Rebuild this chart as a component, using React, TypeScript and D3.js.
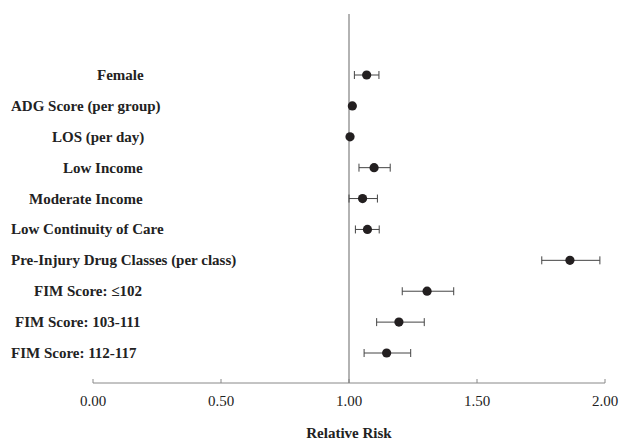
import React from "react";
import * as d3 from "d3";

const categories = [
  "Female",
  "ADG Score (per group)",
  "LOS (per day)",
  "Low Income",
  "Moderate Income",
  "Low Continuity of Care",
  "Pre-Injury Drug Classes (per class)",
  "FIM Score: \u2264102",
  "FIM Score: 103-111",
  "FIM Score: 112-117",
];
const estimate = [1.069, 1.013, 1.004, 1.098, 1.053, 1.072, 1.863, 1.305, 1.195, 1.147];
const lower: (number | null)[] = [1.021, null, null, 1.039, 1.0, 1.025, 1.753, 1.208, 1.108, 1.059];
const upper: (number | null)[] = [1.117, null, null, 1.161, 1.111, 1.118, 1.98, 1.409, 1.294, 1.241];
const xTicks = [0, 0.5, 1, 1.5, 2];

// layout: left edge of each row label (as in the original figure)
const labelLeft = [97, 11, 52, 63, 29, 11, 11, 34, 15, 11];

export default function App() {
  const W = 619, H = 440;
  const x = d3.scaleLinear().domain([0, 2]).range([93, 605]);
  const y = d3.scaleLinear().domain([0, 9]).range([75, 353]);
  const axisY = 383;
  const fmt = d3.format(".2f");
  const font = '"Liberation Serif", "DejaVu Serif", serif';
  const ts = { fontFamily: font };
  return (
    <svg width={W} height={H} style={{ position: "absolute", left: 0, top: 0, fontFamily: font }}>
      <rect width={W} height={H} fill="#fff" />
      {/* axis */}
      <line x1={x(0)} x2={x(2)} y1={axisY} y2={axisY} stroke="#888" strokeWidth={1} />
      {xTicks.map((t) => (
        <g key={t}>
          <line x1={x(t)} x2={x(t)} y1={axisY} y2={axisY - 4} stroke="#888" strokeWidth={1} />
          <text x={x(t)} y={406} textAnchor="middle" fontSize={15} fill="#222" style={ts}>
            {fmt(t)}
          </text>
        </g>
      ))}
      {/* reference line */}
      <line x1={x(1)} x2={x(1)} y1={14} y2={axisY} stroke="#808080" strokeWidth={1.2} />
      {categories.map((c, i) => {
        const yy = y(i);
        const lo = lower[i], hi = upper[i];
        return (
          <g key={c}>
            <text x={labelLeft[i]} y={yy + 5} fontSize={15} fontWeight="bold" fill="#222" style={ts}>
              {c}
            </text>
            {lo != null && hi != null && (
              <g stroke="#444" strokeWidth={1}>
                <line x1={x(lo)} x2={x(hi)} y1={yy} y2={yy} />
                <line x1={x(lo)} x2={x(lo)} y1={yy - 4} y2={yy + 4} />
                <line x1={x(hi)} x2={x(hi)} y1={yy - 4} y2={yy + 4} />
              </g>
            )}
            <circle cx={x(estimate[i])} cy={yy} r={4.6} fill="#231f20" />
          </g>
        );
      })}
      <text x={x(1)} y={438} textAnchor="middle" fontSize={15} fontWeight="bold" fill="#222" style={ts}>
        Relative Risk
      </text>
    </svg>
  );
}
